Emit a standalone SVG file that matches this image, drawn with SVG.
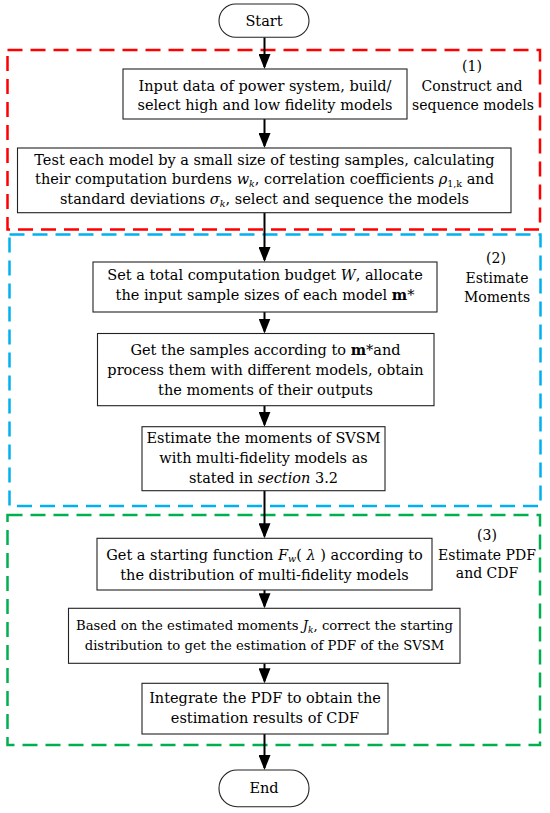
<svg xmlns="http://www.w3.org/2000/svg" width="550" height="813" viewBox="0 0 550 813">
<style>
.box{fill:#fff;stroke:#222;stroke-width:1.1}
.t{font-family:"DejaVu Serif","Liberation Serif",serif;font-size:14.5px;text-anchor:middle;fill:#000}
.lb{font-size:14px}
.s{font-size:13.2px}
.conn{stroke:#000;stroke-width:2;fill:none;marker-end:url(#ah)}
.dash{fill:none;stroke-width:2.5;stroke-dasharray:15 8}
.i{font-style:italic}
.b{font-weight:bold}
</style>
<defs>
<marker id="ah" markerUnits="userSpaceOnUse" markerWidth="15" markerHeight="12" viewBox="0 0 15 12" refX="13" refY="6" orient="auto">
<path d="M0,0 L15,6 L0,12 z" fill="#000"/>
</marker>
</defs>
<rect width="550" height="813" fill="#fff"/>
<g id="groups">
<rect id="g1" class="dash" x="7.5" y="50" width="532.5" height="179.5" stroke="#ff0000"/>
<rect id="g2" class="dash" x="9.5" y="234.5" width="531" height="271.5" stroke="#00b0f0"/>
<rect id="g3" class="dash" x="7.5" y="515" width="532.5" height="230" stroke="#00b050"/>
</g>
<g id="connectors">
<line class="conn" x1="264.5" y1="37.3" x2="264.5" y2="67"/>
<line class="conn" x1="264.5" y1="119" x2="264.5" y2="146"/>
<line class="conn" x1="264.5" y1="212.7" x2="264.5" y2="260"/>
<line class="conn" x1="264.5" y1="312" x2="264.5" y2="331.5"/>
<line class="conn" x1="264.5" y1="405.7" x2="264.5" y2="424.7"/>
<line class="conn" x1="264.5" y1="490.7" x2="264.5" y2="536.3"/>
<line class="conn" x1="264.5" y1="590" x2="264.5" y2="606.3"/>
<line class="conn" x1="264.5" y1="663.3" x2="264.5" y2="681.3"/>
<line class="conn" x1="264.5" y1="734" x2="264.5" y2="768"/>
</g>
<g id="start">
<rect class="box" x="219" y="4" width="90" height="33.3" rx="16.6"/>
<text class="t" x="264" y="26">Start</text>
</g>
<g id="n1">
<rect class="box" x="123" y="69" width="284" height="50"/>
<text class="t" x="265" y="90.5">Input data of power system, build/</text>
<text class="t" x="265" y="110">select high and low fidelity models</text>
</g>
<g id="n2">
<rect class="box" x="17.5" y="148" width="493.5" height="64.7"/>
<text class="t" x="264.5" y="165">Test each model by a small size of testing samples, calculating</text>
<text class="t" x="264.5" y="184.3">their computation burdens <tspan class="i">w</tspan><tspan class="i" font-size="9.5" dy="2.5">k</tspan><tspan dy="-2.5">, correlation coefficients </tspan><tspan class="i">ρ</tspan><tspan font-size="9.5" dy="2.5">1,k</tspan><tspan dy="-2.5"> and</tspan></text>
<text class="t" x="264.5" y="204">standard deviations <tspan class="i">σ</tspan><tspan class="i" font-size="9.5" dy="2.5">k</tspan><tspan dy="-2.5">, select and sequence the models</tspan></text>
</g>
<g id="label1">
<text class="t lb" x="472" y="71">(1)</text>
<text class="t lb" x="472" y="90.7">Construct and</text>
<text class="t lb" x="473" y="110">sequence  models</text>
</g>
<g id="n3">
<rect class="box" x="93" y="262" width="344" height="50"/>
<text class="t" x="265" y="280">Set a total computation budget <tspan class="i">W</tspan>, allocate</text>
<text class="t" x="265" y="300">the input sample sizes of each model <tspan class="b">m</tspan>*</text>
</g>
<g id="n4">
<rect class="box" x="97.5" y="333.5" width="336.5" height="72.2"/>
<text class="t" x="265.5" y="355">Get the samples according to <tspan class="b">m</tspan>*and</text>
<text class="t" x="265.5" y="374.5">process them with different models, obtain</text>
<text class="t" x="265.5" y="395">the moments of their outputs</text>
</g>
<g id="label2">
<text class="t lb" x="496" y="263.3">(2)</text>
<text class="t lb" x="497" y="283.3">Estimate</text>
<text class="t lb" x="497" y="301.7">Moments</text>
</g>
<g id="n5">
<rect class="box" x="142" y="426.7" width="243" height="64"/>
<text class="t" x="263.5" y="443.3">Estimate the moments of SVSM</text>
<text class="t" x="263.5" y="463.3">with multi-fidelity models as</text>
<text class="t" x="263.5" y="483.3">stated in <tspan class="i">section</tspan> 3.2</text>
</g>
<g id="n6">
<rect class="box" x="97" y="538.3" width="335" height="51.7"/>
<text class="t" x="264.5" y="559.5">Get a starting function <tspan class="i">F</tspan><tspan class="i" font-size="9.5" dy="2.5">w</tspan><tspan dy="-2.5">( </tspan><tspan class="i">λ</tspan> ) according to</text>
<text class="t" x="264.5" y="579.5">the distribution of multi-fidelity models</text>
</g>
<g id="label3">
<text class="t lb" x="487" y="540">(3)</text>
<text class="t lb" x="487" y="560">Estimate PDF</text>
<text class="t lb" x="487" y="578">and CDF</text>
</g>
<g id="n7">
<rect class="box" x="68.5" y="608.3" width="391.5" height="55"/>
<text class="t s" x="264.5" y="630">Based on the estimated moments <tspan class="i">J</tspan><tspan class="i" font-size="9" dy="2.5">k</tspan><tspan dy="-2.5">, correct the starting</tspan></text>
<text class="t s" x="264.5" y="650">distribution to get the estimation of PDF of the SVSM</text>
</g>
<g id="n8">
<rect class="box" x="142" y="683.3" width="246" height="50.7"/>
<text class="t" x="265" y="702.5">Integrate the PDF to obtain the</text>
<text class="t" x="265" y="722.5">estimation results of CDF</text>
</g>
<g id="end">
<rect class="box" x="219" y="770" width="90" height="36.7" rx="18"/>
<text class="t" x="264" y="793.3">End</text>
</g>
</svg>
